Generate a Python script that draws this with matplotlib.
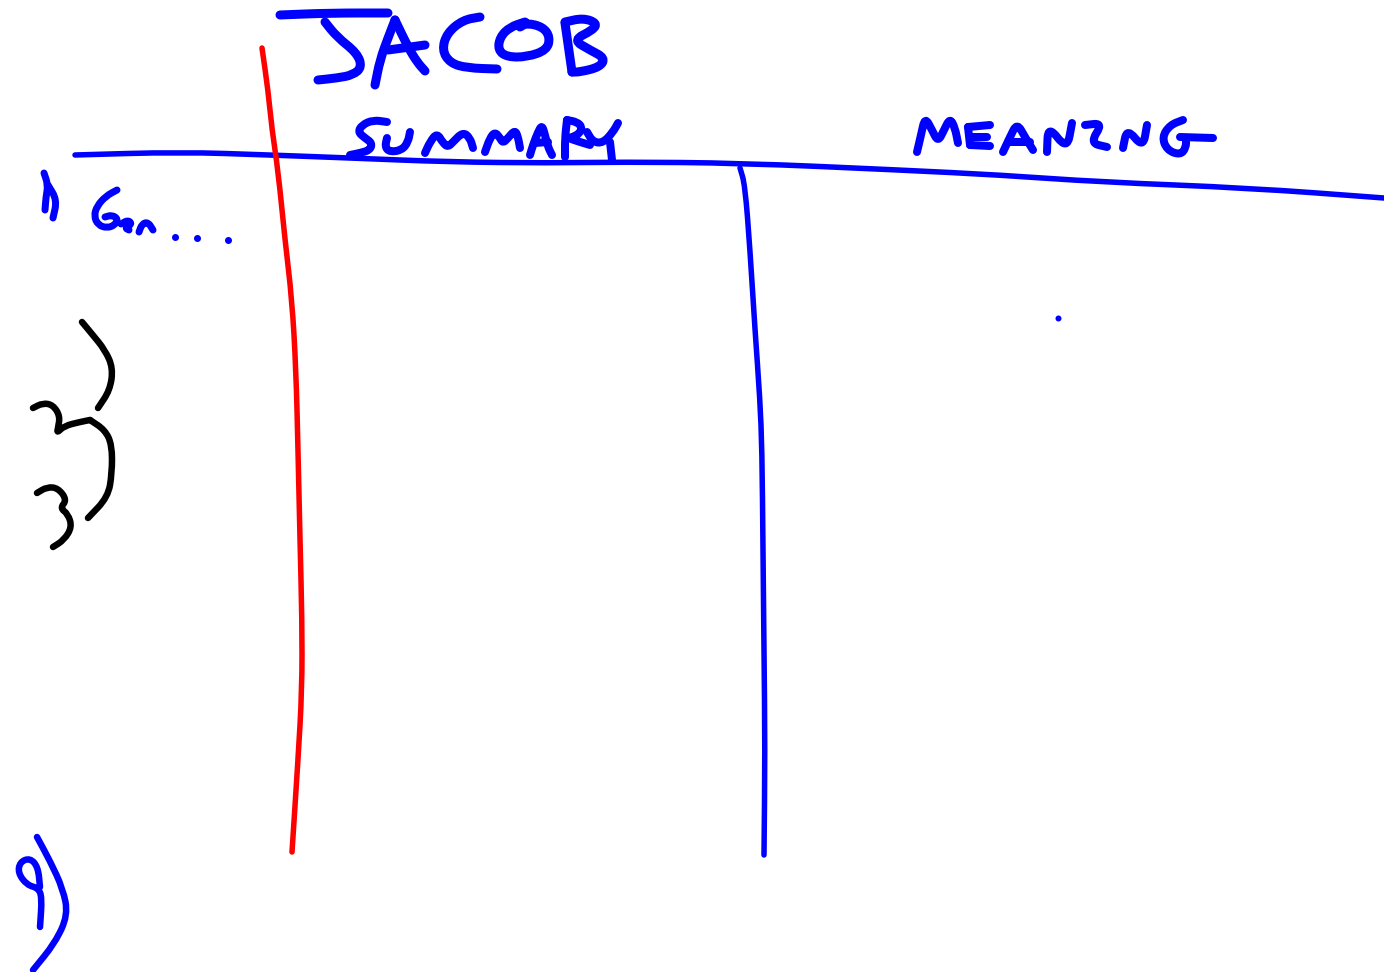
import matplotlib
matplotlib.use("Agg")
import matplotlib.pyplot as plt
from matplotlib.path import Path
from matplotlib.patches import PathPatch

# ---- stroke data (pixel coordinates of the sketch, y grows downward) ----
header_line = [(75,155),(180,152),(270,155),(350,158),(450,162),(550,163),(620,162),
               (740,163),(900,170),(1000,175),(1100,182),(1250,188),(1384,198)]
red_divider = [(262,48),(268,90),(272,130),(278,170),(285,240),(292,300),(296,370),
               (298,450),(300,540),(302,620),(302,690),(298,760),(292,852)]
blue_divider = [(740,168),(745,185),(750,250),(755,330),(760,400),(762,450),
                (763,550),(764,650),(765,750),(764,855)]

title_jacob = [
    [(280,15),(330,13),(388,13)],
    [(325,22),(337,37),(357,53),(362,67),(353,75),(337,78),(318,80)],
    [(375,85),(380,60),(388,38),(395,20)],
    [(395,20),(408,47),(417,62),(425,71)],
    [(388,50),(425,45)],
    [(480,17),(463,20),(447,33),(442,50),(450,63),(467,68),(497,69)],
    [(525,22),(510,27),(500,37),(498,50),(507,57),(527,57),(547,50),(550,37),(543,27),(527,23),(520,27)],
    [(565,23),(572,72)],
    [(565,22),(583,18),(597,23),(593,30),(573,40),(590,50),(605,58),(600,67),(580,72),(572,72)],
]

word_summary = [
    [(387,122),(373,120),(362,125),(358,132),(365,138),(372,143),(370,150),(360,153),(350,155)],
    [(387,138),(385,147),(390,152),(402,150),(408,142),(410,132)],
    [(425,153),(430,142),(437,133),(443,143),(448,147),(453,142),(463,132),(470,138),(473,148)],
    [(485,152),(490,138),(495,132),(500,138),(503,143),(508,138),(515,130),(518,137),(520,148)],
    [(530,155),(533,145),(538,132),(542,125),(545,135),(548,147),(552,155)],
    [(535,143),(548,142)],
    [(565,157),(565,138),(567,120)],
    [(567,120),(577,122),(582,127),(580,133),(573,137),(568,138),(580,142),(590,145)],
    [(587,132),(593,142),(603,143),(613,132),(618,123)],
    [(610,142),(611,151),(612,160)],
]

word_meaning = [
    [(917,152),(921,135),(925,117),(932,130),(938,142),(944,130),(950,118),(955,128),(958,143)],
    [(968,127),(970,145)],
    [(968,127),(990,125)],
    [(970,137),(987,137)],
    [(970,145),(990,146)],
    [(1003,152),(1010,137),(1017,123),(1025,137),(1033,150)],
    [(1008,142),(1030,142)],
    [(1047,152),(1048,125),(1067,150),(1072,123)],
    [(1085,125),(1103,123),(1090,143),(1107,147)],
    [(1123,148),(1127,128),(1143,148),(1147,125)],
    [(1183,120),(1170,125),(1162,137),(1167,150),(1180,155),(1186,148),(1186,138)],
    [(1180,137),(1213,138)],
]

row_label_1 = [
    [(44,173),(48,185),(46,197),(45,210)],
    [(48,185),(57,200),(53,218)],
    [(117,190),(106,196),(97,206),(94,216),(98,225),(107,228),(115,225),(118,219),(112,215),(105,217)],
    [(121,224),(128,220),(132,224),(125,228),(129,230)],
    [(139,232),(142,224),(148,222),(153,230)],
]
ellipsis_dots = [(175,237),(197,238),(228,240)]
stray_dot = [(1058,318)]

black_brackets = [
    [(82,322),(92,334),(105,350),(113,368),(110,390),(98,408)],
    [(33,408),(43,403),(53,405),(60,416),(58,428),(57,433),(64,426),(80,422),(90,420)],
    [(90,420),(105,430),(112,445),(112,473),(108,497),(88,518)],
    [(37,493),(47,487),(58,488),(67,500),(60,508),(68,514),(72,527),(64,540),(53,547)],
]

row_label_9 = [
    [(37,837),(50,861),(63,889),(68,915),(55,943),(33,970)],
    [(40,887),(38,867),(30,858),(20,862),(18,873),(27,885),(38,888),(42,897),(40,927)],
]

BLUE = "#0000FF"
RED = "#FF0000"
BLACK = "#000000"
PX = 0.72  # points per pixel at 100 dpi

fig = plt.figure(figsize=(13.84, 9.72), dpi=100)
ax = fig.add_axes([0, 0, 1, 1])
ax.set_xlim(0, 1384)
ax.set_ylim(972, 0)
ax.axis("off")


def stroke(pts, color, width):
    # quadratic Bezier through segment midpoints, vertices as control points
    if len(pts) < 3:
        verts = list(pts)
        codes = [Path.MOVETO] + [Path.LINETO] * (len(pts) - 1)
    else:
        verts = [pts[0]]
        codes = [Path.MOVETO]
        mids = [((pts[i][0] + pts[i + 1][0]) / 2, (pts[i][1] + pts[i + 1][1]) / 2)
                for i in range(len(pts) - 1)]
        verts.append(mids[0]); codes.append(Path.LINETO)
        for i in range(1, len(pts) - 1):
            verts += [pts[i], mids[i]]
            codes += [Path.CURVE3, Path.CURVE3]
        verts.append(pts[-1]); codes.append(Path.LINETO)
    patch = PathPatch(Path(verts, codes), facecolor="none", edgecolor=color,
                      lw=width * PX, capstyle="round", joinstyle="round")
    ax.add_patch(patch)


stroke(header_line, BLUE, 5.5)
stroke(red_divider, RED, 5.5)
stroke(blue_divider, BLUE, 5.5)
for s in title_jacob:
    stroke(s, BLUE, 9)
for s in word_summary:
    stroke(s, BLUE, 8)
for s in word_meaning:
    stroke(s, BLUE, 8)
for s in row_label_1:
    stroke(s, BLUE, 7)
for s in black_brackets:
    stroke(s, BLACK, 6.5)
for s in row_label_9:
    stroke(s, BLUE, 6.5)

ax.scatter([p[0] for p in ellipsis_dots], [p[1] for p in ellipsis_dots],
           s=(7 * PX) ** 2, color=BLUE, linewidths=0)
ax.scatter([p[0] for p in stray_dot], [p[1] for p in stray_dot],
           s=(6 * PX) ** 2, color=BLUE, linewidths=0)

fig.savefig("out.png", dpi=100, facecolor="white")
